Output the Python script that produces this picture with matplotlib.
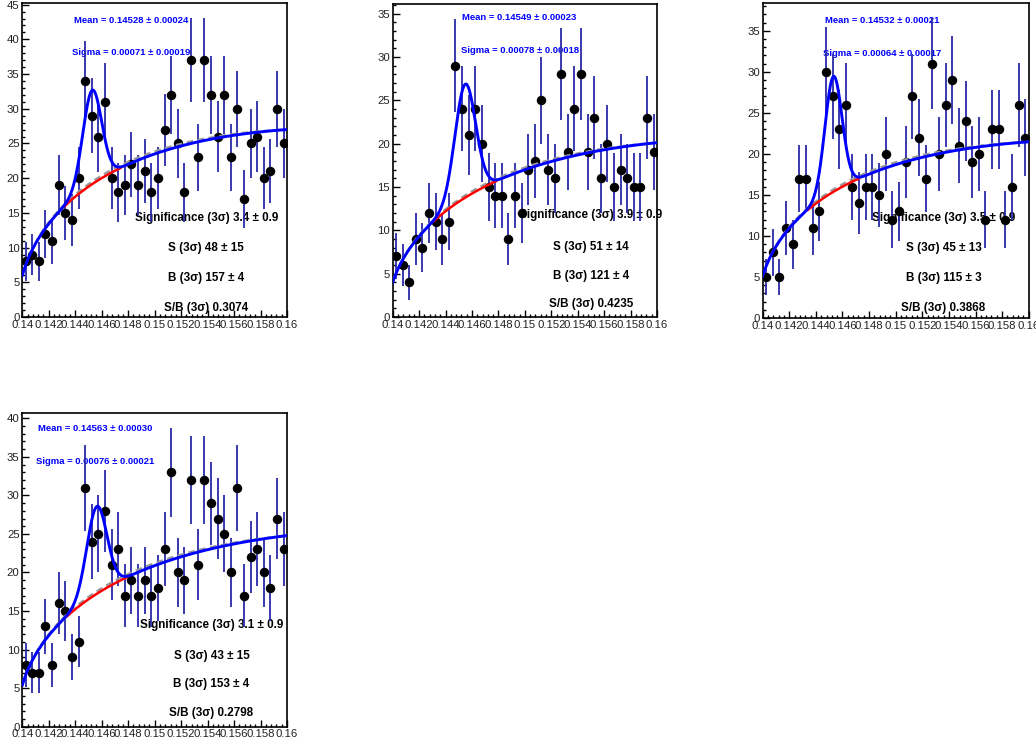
import numpy as np
import matplotlib
matplotlib.use("Agg")
import matplotlib.pyplot as plt
from matplotlib.ticker import MultipleLocator, FixedLocator, FuncFormatter

W, H = 1036, 746
X_LO, X_HI, NBINS = 0.14, 0.16, 40
M_PI = 0.13957  # kinematic threshold of the background shape

# bin contents, 40 bins of 0.0005 from 0.14 to 0.16
counts_a = [8, 9, 8, 12, 11, 19, 15, 14, 20, 34, 29, 26, 31, 20, 18, 19, 22, 19, 21, 18,
            20, 27, 32, 25, 18, 37, 23, 37, 32, 26, 32, 23, 30, 17, 25, 26, 20, 21, 30, 25]
counts_b = [7, 6, 4, 9, 8, 12, 11, 9, 11, 29, 24, 21, 24, 20, 15, 14, 14, 9, 14, 12,
            17, 18, 25, 17, 16, 28, 19, 24, 28, 19, 23, 16, 20, 15, 17, 16, 15, 15, 23, 19]
counts_c = [5, 8, 5, 11, 9, 17, 17, 11, 13, 30, 27, 23, 26, 16, 14, 16, 16, 15, 20, 12,
            13, 19, 27, 22, 17, 31, 20, 26, 29, 21, 24, 19, 20, 12, 23, 23, 12, 16, 26, 22]
counts_d = [8, 7, 7, 13, 8, 16, 15, 9, 11, 31, 24, 25, 28, 21, 23, 17, 19, 17, 19, 17,
            18, 23, 33, 20, 19, 32, 21, 32, 29, 27, 25, 20, 31, 17, 22, 23, 20, 18, 27, 23]

# fit results: mean, mean error, sigma, sigma error
mean_vals = ["0.14528", "0.14549", "0.14532", "0.14563"]
mean_errs = ["0.00024", "0.00023", "0.00021", "0.00030"]
sigma_vals = ["0.00071", "0.00078", "0.00064", "0.00076"]
sigma_errs = ["0.00019", "0.00018", "0.00017", "0.00021"]
# yields inside +-3 sigma
signif_vals = ["3.4", "3.9", "3.5", "3.1"]
signif_errs = ["0.9", "0.9", "0.9", "0.9"]
s_vals = [48, 51, 45, 43]
s_errs = [15, 14, 13, 15]
b_vals = [157, 121, 115, 153]
b_errs = [4, 4, 3, 4]
sb_vals = ["0.3074", "0.4235", "0.3868", "0.2798"]

# background A*(x-m0)^p*exp(c*(x-m0)) as (lnA, p, c): total fit and sideband-only fit
bkg_pars = [(5.575, 0.487, -18.8), (5.331, 0.508, -17.3),
            (5.210, 0.461, -17.1), (5.335, 0.470, -14.5)]
side_pars = [(5.669, 0.499, -21.1), (5.425, 0.520, -19.6),
             (5.304, 0.473, -19.4), (5.429, 0.482, -16.8)]

all_counts = [counts_a, counts_b, counts_c, counts_d]

# pad frames in pixels: left, top, right, bottom
frames = [(22.3, 3, 287, 317), (392.7, 4, 657, 317),
          (762.7, 3, 1028.7, 318), (22.3, 413, 287, 726.7)]
# text anchors in axes fraction: x of fit box, x of yield box, y rows
fit_x = [0.41, 0.48, 0.448, 0.276]
yield_x = [0.695, 0.75, 0.68, 0.715]
fit_y = [(0.944, 0.841), (0.958, 0.850), (0.943, 0.841), (0.949, 0.845)]
yield_y = [(0.315, 0.220, 0.124, 0.029), (0.326, 0.224, 0.131, 0.042),
           (0.317, 0.222, 0.127, 0.032), (0.323, 0.226, 0.137, 0.045)]

BLUE, RED, GREY = "#0000ff", "#ff0000", "#999999"
ERRCOL = "#2a2aa8"

plt.rcParams.update({"font.family": "Liberation Sans", "axes.linewidth": 1.2})


def bkg(x, pars):
    lna, p, c = pars
    dx = x - M_PI
    return np.exp(lna + p * np.log(dx) + c * dx)


fig = plt.figure(figsize=(W / 100, H / 100), dpi=100)

binw = (X_HI - X_LO) / NBINS
centres = X_LO + binw * (np.arange(NBINS) + 0.5)
xf = np.linspace(X_LO, X_HI, 600)

for k, counts in enumerate(all_counts):
    l, t, r, b = frames[k]
    ax = fig.add_axes([l / W, 1 - b / H, (r - l) / W, (b - t) / H])
    y = np.array(counts, dtype=float)
    err = np.sqrt(y)

    mu, sg = float(mean_vals[k]), float(sigma_vals[k])
    amp = s_vals[k] * binw / (sg * np.sqrt(2 * np.pi) * 0.9973)
    total = bkg(xf, bkg_pars[k]) + amp * np.exp(-0.5 * ((xf - mu) / sg) ** 2)
    xr = np.linspace(mu - 3 * sg, mu + 3 * sg, 200)

    ax.errorbar(centres, y, yerr=err, fmt="none", ecolor=ERRCOL, elinewidth=1.3,
                capsize=0, zorder=3)
    ax.plot(centres, y, "o", color="black", ms=5.8, zorder=4)
    ax.plot(xf, bkg(xf, side_pars[k]), color=GREY, lw=1.6, ls=(0, (3, 2)), zorder=5)
    ax.plot(xr, bkg(xr, bkg_pars[k]), color=RED, lw=1.8, zorder=6)
    ax.plot(xf, total, color=BLUE, lw=2.1, zorder=7)

    ax.set_xlim(X_LO, X_HI)
    ax.set_ylim(0, 1.05 * (y + err).max())
    ax.xaxis.set_major_locator(FixedLocator(np.round(np.arange(0.14, 0.16001, 0.002), 3)))
    ax.xaxis.set_minor_locator(MultipleLocator(0.0004))
    ax.xaxis.set_major_formatter(FuncFormatter(lambda v, _: f"{round(v, 3):g}"))
    ax.yaxis.set_major_locator(MultipleLocator(5))
    ax.yaxis.set_minor_locator(MultipleLocator(1))
    ax.tick_params(which="both", direction="in", top=False, right=False,
                   labelsize=8.2, pad=2, width=1.0, labelcolor="#222222")
    ax.tick_params(which="major", length=5)
    ax.tick_params(which="minor", length=2.5)

    fx = fit_x[k]
    ax.text(fx, fit_y[k][0], f"Mean = {mean_vals[k]} ± {mean_errs[k]}", color=BLUE,
            fontsize=6.8, fontweight="bold", ha="center", va="center",
            transform=ax.transAxes, zorder=1)
    ax.text(fx, fit_y[k][1], f"Sigma = {sigma_vals[k]} ± {sigma_errs[k]}", color=BLUE,
            fontsize=6.8, fontweight="bold", ha="center", va="center",
            transform=ax.transAxes, zorder=1)
    lines = [f"Significance (3σ) {signif_vals[k]} ± {signif_errs[k]}",
             f"S (3σ) {s_vals[k]} ± {s_errs[k]}",
             f"B (3σ) {b_vals[k]} ± {b_errs[k]}",
             f"S/B (3σ) {sb_vals[k]}"]
    for txt, yy in zip(lines, yield_y[k]):
        ax.text(yield_x[k], yy, txt, color="black", fontsize=8.4, fontweight="bold",
                ha="center", va="center", transform=ax.transAxes, zorder=1)

fig.savefig("out.png", dpi=100, facecolor="white")
